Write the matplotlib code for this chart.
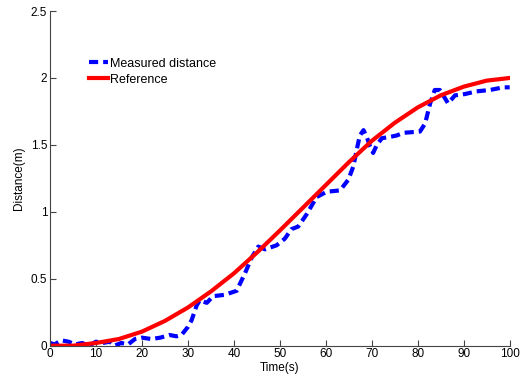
import matplotlib
matplotlib.use("Agg")
import matplotlib.pyplot as plt

plt.rcParams["font.family"] = ["Liberation Sans", "DejaVu Sans"]

# Measured distance (blue, dashed)
t_meas = [0, 1, 2.5, 4, 5.5, 7, 8.5, 10, 11.5, 13, 14, 15.5, 17, 18.5, 20, 22, 24,
          26, 27.5, 28.6, 30, 30.8, 31.9, 32.6, 34.1, 35.5, 38, 40.6, 42.4, 43.9,
          45.3, 46.8, 49.3, 51.1, 52.5, 54, 55.8, 58, 60.2, 63.1, 64.9, 66, 66.7,
          67.4, 68.2, 68.9, 69.6, 70.3, 71.1, 72.2, 74, 75.4, 76.9, 80.5, 81.6,
          82.7, 83.7, 84.8, 85.9, 86.6, 88.1, 90.3, 92.8, 95.7, 98.6, 100]
d_meas = [0.02, 0.01, 0.04, 0.03, 0.01, 0.02, 0.00, 0.03, 0.02, 0.03, 0.00, 0.02,
          0.01, 0.05, 0.06, 0.05, 0.06, 0.08, 0.07, 0.08, 0.14, 0.19, 0.30, 0.34,
          0.32, 0.37, 0.38, 0.41, 0.54, 0.66, 0.74, 0.72, 0.75, 0.80, 0.87, 0.89,
          0.98, 1.11, 1.15, 1.16, 1.24, 1.34, 1.46, 1.57, 1.61, 1.56, 1.49, 1.44,
          1.50, 1.55, 1.56, 1.57, 1.59, 1.60, 1.66, 1.81, 1.91, 1.91, 1.85, 1.81,
          1.87, 1.88, 1.90, 1.91, 1.93, 1.93]

# Reference trajectory (red, solid)
t_ref = [0, 5, 10, 15, 20, 25, 30, 35, 40, 45, 50, 55, 60, 65, 70, 75, 80, 85, 90, 95, 100]
d_ref = [0.0, 0.0, 0.02, 0.05, 0.105, 0.185, 0.285, 0.405, 0.54, 0.695, 0.86, 1.03, 1.20,
         1.37, 1.53, 1.665, 1.78, 1.87, 1.935, 1.98, 2.00]

x_ticks = [0, 10, 20, 30, 40, 50, 60, 70, 80, 90, 100]
y_ticks = [0, 0.5, 1, 1.5, 2, 2.5]
y_tick_labels = ["0", "0.5", "1", "1.5", "2", "2.5"]

fig = plt.figure(figsize=(5.28, 3.80), dpi=100)
ax = fig.add_axes([0.0947, 0.0903, 0.8706, 0.8807])

ax.plot(t_meas, d_meas, color="blue", lw=3, ls=(0, (2.2, 1.2)),
        label="Measured distance")
ax.plot(t_ref, d_ref, color="red", lw=3, label="Reference")

ax.set_xlim(0, 100)
ax.set_ylim(0, 2.5)
ax.set_xticks(x_ticks)
ax.set_yticks(y_ticks)
ax.set_yticklabels(y_tick_labels)
ax.tick_params(direction="in", length=4, labelsize=8.5, width=0.8, pad=2,
               color="#444444")
for side in ("top", "right"):
    ax.spines[side].set_visible(False)
for side in ("left", "bottom"):
    ax.spines[side].set_linewidth(0.8)
    ax.spines[side].set_color("#444444")

ax.set_xlabel("Time(s)", fontsize=8.5, labelpad=1)
ax.set_ylabel("Distance(m)", fontsize=8.5, labelpad=4)

ax.legend(loc="upper left", bbox_to_anchor=(0.074, 0.875), frameon=False,
          fontsize=9, handlelength=1.5, handletextpad=0.2, labelspacing=0.3,
          borderaxespad=0)

fig.savefig("out.png", dpi=100)
